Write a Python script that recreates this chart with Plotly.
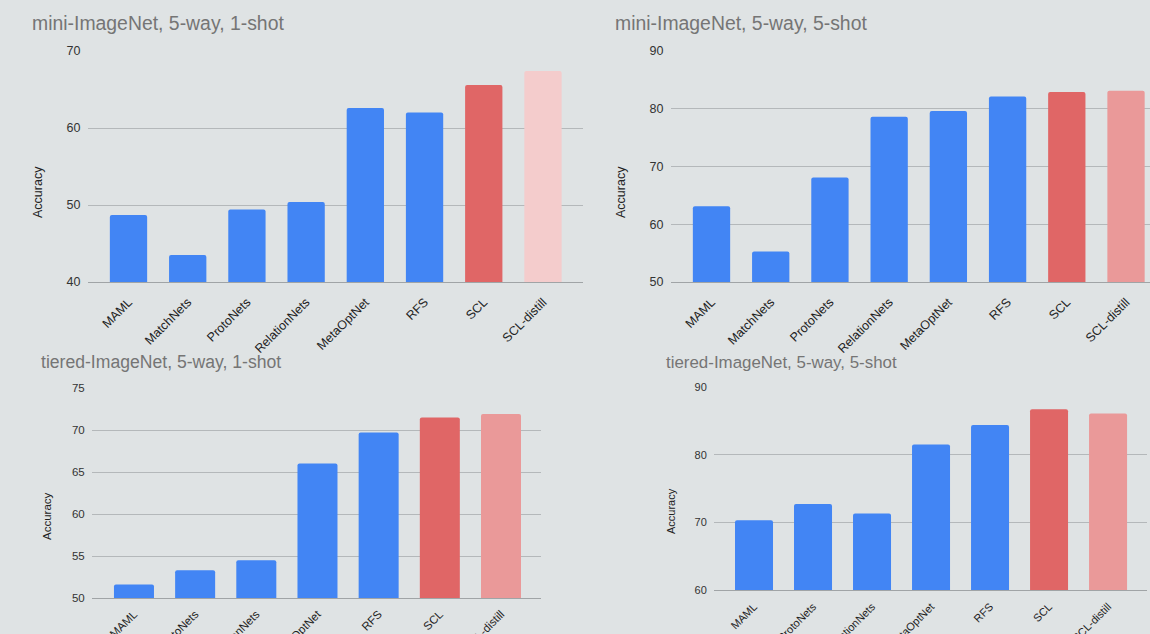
import plotly.graph_objects as go

# ---- data ----
methods_mini = ["MAML", "MatchNets", "ProtoNets", "RelationNets", "MetaOptNet", "RFS", "SCL", "SCL-distill"]
mini_1shot = [48.7, 43.5, 49.4, 50.4, 62.6, 62.0, 65.6, 67.4]
mini_5shot = [63.1, 55.3, 68.1, 78.6, 79.6, 82.1, 82.9, 83.1]

methods_tiered = ["MAML", "ProtoNets", "RelationNets", "MetaOptNet", "RFS", "SCL", "SCL-distill"]
tiered_1shot = [51.6, 53.3, 54.5, 66.0, 69.7, 71.5, 71.9]
tiered_5shot = [70.3, 72.7, 71.3, 81.5, 84.4, 86.7, 86.1]

titles = ["mini-ImageNet, 5-way, 1-shot", "mini-ImageNet, 5-way, 5-shot",
          "tiered-ImageNet, 5-way, 1-shot", "tiered-ImageNet, 5-way, 5-shot"]

BLUE = "#4285f4"
RED = "#e06666"
PINK = "#ea9999"
LIGHTPINK = "#f4cccc"
BG = "#dfe3e4"
FONT = "Liberation Sans, Arial, sans-serif"
W, H = 1150, 634


def colors(names, distill_color):
    out = []
    for n in names:
        if n == "SCL":
            out.append(RED)
        elif n == "SCL-distill":
            out.append(distill_color)
        else:
            out.append(BLUE)
    return out


def px_x(a, b):
    return [a / W, b / W]


def px_y(top, bottom):
    return [(H - bottom) / H, (H - top) / H]


panels = [
    dict(x=methods_mini, y=mini_1shot, dc=LIGHTPINK, xd=px_x(88, 583), yd=px_y(51, 282),
         xr=[-0.684, 7.676], yr=[40, 70], dt=10, width=0.63, tf=12.5, tl=7,
         title=(30, 23, 19.4), acc=(38, 192, 12.5)),
    dict(x=methods_mini, y=mini_5shot, dc=PINK, xd=px_x(671, 1150), yd=px_y(51, 282),
         xr=[-0.684, 7.405], yr=[50, 90], dt=10, width=0.63, tf=12.5, tl=7,
         title=(613, 23, 19.4), acc=(621, 192, 12.5)),
    dict(x=methods_tiered, y=tiered_1shot, dc=PINK, xd=px_x(92, 541), yd=px_y(388, 598),
         xr=[-0.686, 6.654], yr=[50, 75], dt=5, width=0.654, tf=11.5, tl=4,
         title=(39, 362, 17.6), acc=(47, 516, 11.5)),
    dict(x=methods_tiered, y=tiered_5shot, dc=PINK, xd=px_x(714, 1147), yd=px_y(387, 590),
         xr=[-0.678, 6.66], yr=[60, 90], dt=10, width=0.644, tf=11, tl=5,
         title=(664, 362, 16.9), acc=(671, 511, 11)),
]

fig = go.Figure()
annotations = []
for i, p in enumerate(panels):
    k = "" if i == 0 else str(i + 1)
    fig.add_trace(go.Bar(
        x=p["x"], y=p["y"], marker=dict(color=colors(p["x"], p["dc"]), line=dict(width=0)),
        width=p["width"], xaxis="x" + k, yaxis="y" + k, showlegend=False,
    ))
    fig.layout["xaxis" + k] = dict(
        domain=p["xd"], anchor="y" + k, range=p["xr"], tickangle=-45, automargin=False,
        tickfont=dict(size=p["tf"], color="#222222", family=FONT),
        showgrid=False, showline=True, linecolor="#a0a4a6", linewidth=1,
        ticks="outside", ticklen=p["tl"], tickcolor=BG, fixedrange=True,
    )
    fig.layout["yaxis" + k] = dict(
        domain=p["yd"], anchor="x" + k, range=p["yr"], dtick=p["dt"], tick0=0, automargin=False,
        tickfont=dict(size=p["tf"], color="#333333", family=FONT),
        showgrid=True, gridcolor="#b4b8ba", gridwidth=1, zeroline=False, showline=False,
        ticks="outside", ticklen=4, tickcolor=BG, fixedrange=True,
    )
    tx, ty, ts = p["title"]
    annotations.append(dict(text=titles[i], x=tx / W, y=(H - ty) / H, xref="paper", yref="paper",
                            xanchor="left", yanchor="middle", showarrow=False,
                            font=dict(size=ts, color="#757575", family=FONT)))
    ax, ay, asz = p["acc"]
    annotations.append(dict(text="Accuracy", x=ax / W, y=(H - ay) / H, xref="paper", yref="paper",
                            xanchor="center", yanchor="middle", textangle=-90, showarrow=False,
                            font=dict(size=asz, color="#222222", family=FONT)))

fig.update_layout(
    width=W, height=H, margin=dict(l=0, r=0, t=0, b=0, autoexpand=False),
    paper_bgcolor=BG, plot_bgcolor=BG, annotations=annotations,
    barcornerradius=2, font=dict(family=FONT),
)

fig.write_html("out.html", config={"displayModeBar": False})
